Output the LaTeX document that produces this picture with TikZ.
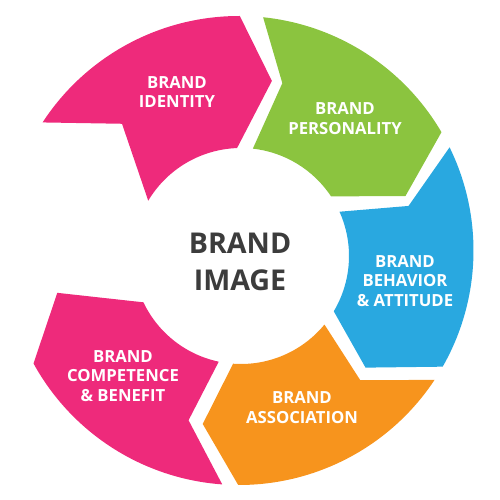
\documentclass[tikz,border=0pt]{standalone}
\usepackage{fontspec}
\setmainfont{Open Sans}
\usepackage{tikz}
\usetikzlibrary{calc}
\usetikzlibrary{positioning}
\definecolor{brandpink}{HTML}{EE2A7B}
\definecolor{brandgreen}{HTML}{8BC43F}
\definecolor{brandblue}{HTML}{29A8E0}
\definecolor{brandorange}{HTML}{F7941D}
\definecolor{imagegray}{HTML}{3C3C3C}

\begin{document}
\begin{tikzpicture}[
		seglabel/.style={text=white, font=\bfseries\fontsize{9.5}{11.3}\selectfont, align=center, inner sep=0pt},
		midlabel/.style={text=imagegray, font=\bfseries\fontsize{16.3}{21}\selectfont, align=center, inner sep=0pt}
	]
	\useasboundingbox (-4.8,-4.94) rectangle (5.2,5.06);
	\coordinate (Co) at (-0.02,0.05);
	\coordinate (Ci) at (0.02,-0.06);
	\def\Ro{4.69}
	\def\Ri{2.16}
	\def\Rm{3.5}
	% ring pieces: tail (outer, notch, inner), head (outer, tip, inner), tip radius
	\foreach \ta/\tn/\ti/\ha/\hn/\hi/\hr/\col in {
			146.9/132.4/149.2/89.8/79.5/92.1/3.5/brandpink,
			84.1/76/83.7/30.3/19/33.5/3.5/brandgreen,
			26.1/15.6/24.2/-29.7/-42.4/-30.8/3.4/brandblue,
			-33.5/-46.6/-39.4/-90.2/-102.3/-94.2/3.5/brandorange,
			-94.1/-107.1/-101.9/-151.2/-167.7/-154.6/3.74/brandpink} {
			\fill[\col] ($(Co)+(\ta:\Ro)$) arc[start angle=\ta, end angle=\ha, radius=\Ro]
				-- (\hn:\hr) -- ($(Ci)+(\hi:\Ri)$) arc[start angle=\hi, end angle=\ti, radius=\Ri]
				-- (\tn:\Rm) -- cycle;
		}
	\node[seglabel] (identity) at (-1.26,3.22) {BRAND\\IDENTITY};
	\node[seglabel] (personality) at (2.10,2.68) {BRAND\\PERSONALITY};
	\node[seglabel] (behavior) at (3.30,-0.56) {BRAND\\BEHAVIOR\\\& ATTITUDE};
	\node[seglabel] (association) at (1.24,-3.10) {BRAND\\ASSOCIATION};
	\node[seglabel] (competence) at (-2.34,-2.46) {BRAND\\COMPETENCE\\\& BENEFIT};
	\node[midlabel] (image) at (0,-0.17) {BRAND\\IMAGE};
\end{tikzpicture}
\end{document}
